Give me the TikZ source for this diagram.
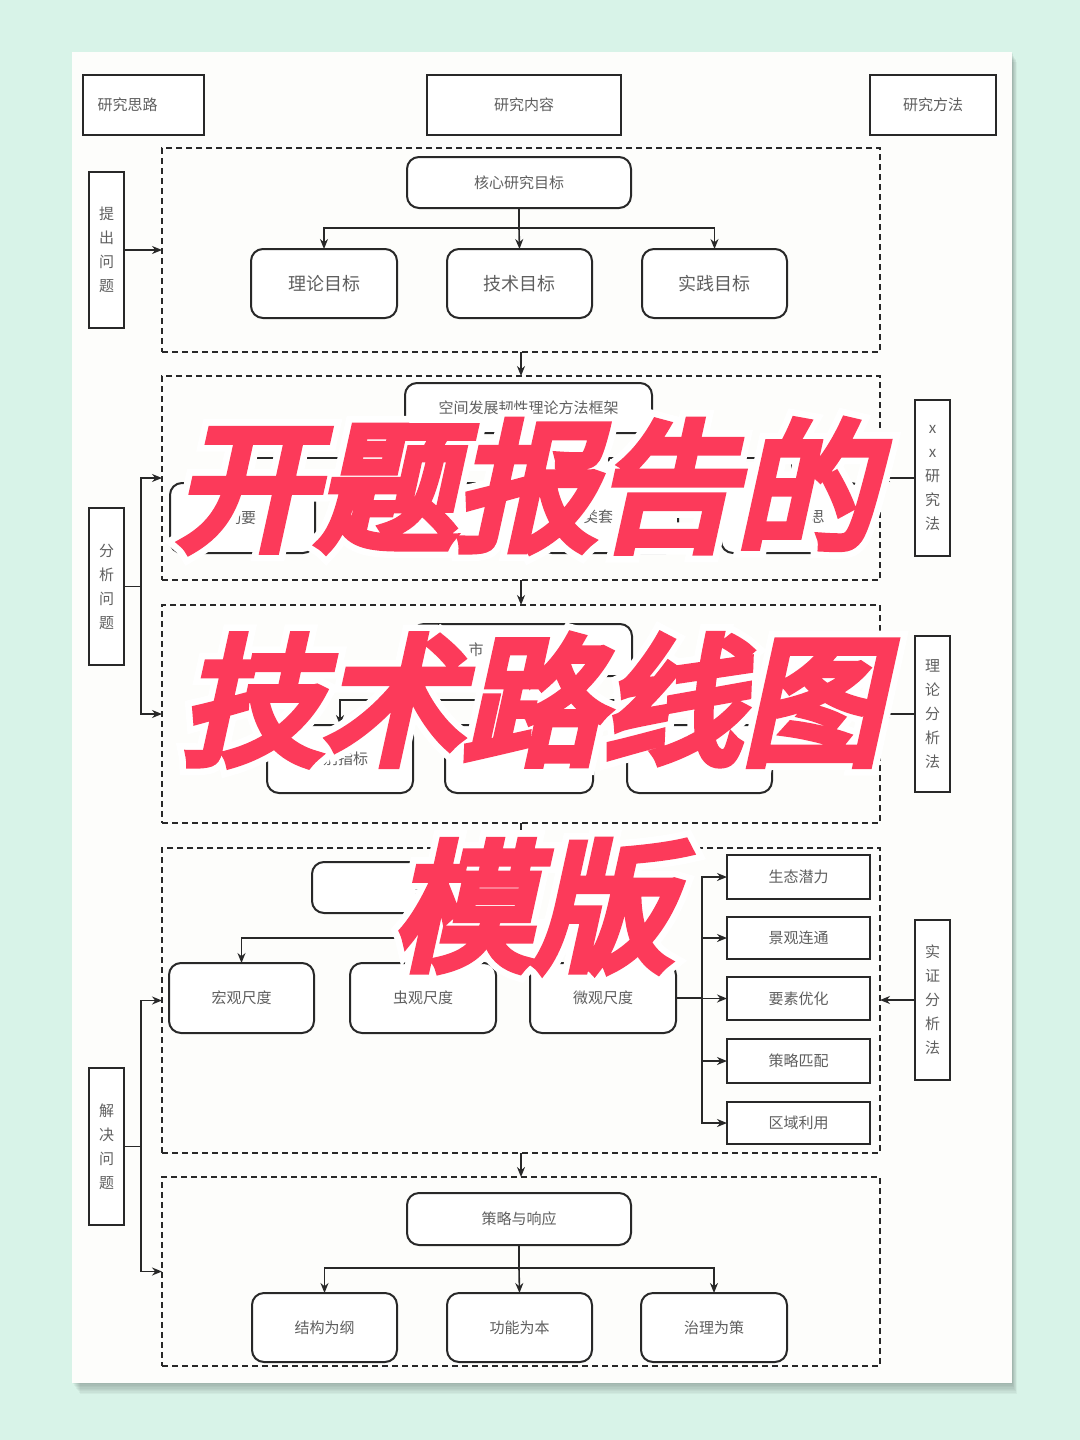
\documentclass[tikz,border=0pt]{standalone}
\usepackage{fontspec}
\setmainfont{Noto Sans CJK SC}
\newfontfamily\bigred[FakeSlant=0.22,FakeBold=6.5]{Noto Sans CJK SC}
\newfontfamily\bigwhite[FakeSlant=0.22,FakeBold=16]{Noto Sans CJK SC}
\usetikzlibrary{arrows.meta}
\definecolor{bg}{RGB}{216,243,232}
\definecolor{paper}{RGB}{253,253,251}
\definecolor{ln}{RGB}{40,40,40}
\definecolor{txt}{RGB}{95,95,95}
\definecolor{hot}{RGB}{252,58,90}
\newcommand\bx[7]{\node[#6, minimum width={(#4-#2)*0.5pt}, minimum height={(#5-#3)*0.5pt}] (#1) at ({(#2+#4)/2},{(#3+#5)/2}) {#7};}
\tikzset{
 every node/.style={inner sep=0pt, outer sep=0pt, text=txt},
 sq/.style={draw=ln, line width=1pt, fill=white, font=\fontsize{7.5}{9}\selectfont},
 vt/.style={sq, align=center, font=\fontsize{7.5}{12}\selectfont},
 rb/.style={draw=ln, line width=1pt, rounded corners=6pt, fill=white, font=\fontsize{9}{11}\selectfont},
 rbs/.style={rb, font=\fontsize{7.5}{9}\selectfont},
 dbox/.style={draw=ln, line width=0.8pt, dash pattern=on 3pt off 2pt},
 frag/.style={font=\fontsize{7.5}{9}\selectfont},
 con/.style={draw=ln, line width=0.8pt},
 arr/.style={con, -{Stealth[length=5pt,width=4pt]}},
 bigw/.style={font=\bigwhite\fontsize{70}{70}\selectfont, text=white},
 bigr/.style={font=\bigred\fontsize{70}{70}\selectfont, text=hot},
}
\begin{document}
\begin{tikzpicture}[x=0.5pt,y=-0.5pt]
\useasboundingbox (0,0) rectangle (1080,1440);
\fill[bg] (0,0) rectangle (1080,1440);
\foreach \s in {1,...,8}{
  \fill[black!70!bg, opacity=0.05] (72+\s,52+\s*1.2) rectangle (1012+\s*0.6,1383+\s*1.4);
}
\fill[paper] (72,52) rectangle (1012,1383);

% header
\bx{h1}{83}{75}{204}{135}{sq}{研究思路\hspace*{16pt}}
\bx{h2}{427}{75}{621}{135}{sq}{研究内容}
\bx{h3}{870}{75}{996}{135}{sq}{研究方法}

% sections
\bx{s1}{162}{148}{880}{352}{dbox}{}
\bx{s2}{162}{376}{880}{580}{dbox}{}
\bx{s3}{162}{605}{880}{823}{dbox}{}
\bx{s4}{162}{848}{880}{1153}{dbox}{}
\bx{s5}{162}{1177}{880}{1366}{dbox}{}
\draw[arr] (s1.south) -- (s2.north);
\draw[arr] (s2.south) -- (s3.north);
\draw[arr] (s3.south) -- (s4.north);
\draw[arr] (s4.south) -- (s5.north);

% left
\bx{q1}{89}{172}{124}{328}{vt}{提\\出\\问\\题}
\bx{q2}{89}{508}{124}{665}{vt}{分\\析\\问\\题}
\bx{q3}{89}{1068}{124}{1225}{vt}{解\\决\\问\\题}
\draw[arr] (q1.east) -- (q1.east -| s1.west);
\draw[con] (q2.east) -- ++(17,0) coordinate (k2);
\draw[arr] (k2) |- (s2.west);
\draw[arr] (k2) |- (s3.west);
\draw[con] (q3.east) -- ++(17,0) coordinate (k3);
\draw[arr] (k3) |- (s4.west);
\draw[arr] (k3) |- (s5.west);

% right
\bx{m1}{915}{400}{950}{556}{vt}{x\\x\\研\\究\\法}
\bx{m2}{915}{636}{950}{792}{vt}{理\\论\\分\\析\\法}
\bx{m3}{915}{920}{950}{1080}{vt}{实\\证\\分\\析\\法}
\draw[arr] (m1.west) -- (m1.west -| s2.east);
\draw[arr] (m2.west) -- (m2.west -| s3.east);
\draw[arr] (m3.west) -- (m3.west -| s4.east);

% section 1
\bx{p0}{407}{157}{631}{208}{rbs}{核心研究目标}
\bx{p1}{251}{249}{397}{318}{rb}{理论目标}
\bx{p2}{447}{249}{592}{318}{rb}{技术目标}
\bx{p3}{642}{249}{787}{318}{rb}{实践目标}
\draw[con] (p0.south) -- ++(0,20) coordinate (j1);
\draw[arr] (j1) -| (p1.north);
\draw[arr] (j1) -- (p2.north);
\draw[arr] (j1) -| (p3.north);

% section 2
\bx{a0}{405}{383}{652}{433}{rbs}{空间发展韧性理论方法框架}
\bx{a1}{170}{483}{315}{553}{rb}{}
\bx{a2}{357}{483}{500}{553}{rb}{}
\bx{a3}{540}{483}{678}{553}{rb}{}
\bx{a4}{721}{483}{863}{553}{rb}{}
\draw[con] (a0.south) -- ++(0,25) coordinate (j2);
\draw[arr] (j2) -| (a1.north);
\draw[arr] (j2) -| (a2.north);
\draw[arr] (j2) -| (a3.north);
\draw[arr] (j2) -| (a4.north);
\node[frag] (fa1) at (241,518) {动要};
\node[frag] (fa2) at (452,518) {令};
\node[frag] (fa3) at (598,517) {类套};
\node[frag] (fa4) at (817,517) {思};

% section 3
\bx{c0}{412}{624}{632}{676}{rbs}{}
\bx{c1}{267}{725}{413}{793}{rb}{}
\bx{c2}{445}{725}{593}{793}{rb}{}
\bx{c3}{627}{725}{772}{793}{rb}{}
\draw[con] (c0.south) -- ++(0,24) coordinate (j3);
\draw[arr] (j3) -| (c1.north);
\draw[arr] (j3) -- (c2.north);
\draw[arr] (j3) -| (c3.north);
\node[frag] (fc0) at (476,650) {市};
\node[frag] (fc1) at (338,759) {识别指标};
\node[frag] (fc3a) at (672,760) {规};
\node[frag] (fc3b) at (726,760) {析};

% section 4
\bx{d0}{312}{862}{532}{913}{rbs}{判}
\bx{e1}{169}{963}{314}{1033}{rbs}{宏观尺度}
\bx{e2}{350}{963}{496}{1033}{rbs}{虫观尺度}
\bx{e3}{530}{963}{676}{1033}{rbs}{微观尺度}
\draw[con] (d0.south) -- ++(0,25) coordinate (j4);
\draw[arr] (j4) -| (e1.north);
\draw[arr] (j4) -| (e2.north);
\draw[arr] (j4) -| (e3.north);
\bx{f1}{727}{855}{870}{899}{sq}{生态潜力}
\bx{f2}{727}{917}{870}{959}{sq}{景观连通}
\bx{f3}{727}{977}{870}{1020}{sq}{要素优化}
\bx{f4}{727}{1039}{870}{1083}{sq}{策略匹配}
\bx{f5}{727}{1102}{870}{1144}{sq}{区域利用}
\draw[con] (e3.east) -- ++(26,0) coordinate (bus);
\draw[arr] (bus) |- (f1.west);
\draw[arr] (bus) |- (f2.west);
\draw[arr] (bus) |- (f3.west);
\draw[arr] (bus) |- (f4.west);
\draw[arr] (bus) |- (f5.west);

% section 5
\bx{g0}{407}{1193}{631}{1245}{rbs}{策略与响应}
\bx{g1}{252}{1293}{397}{1362}{rbs}{结构为纲}
\bx{g2}{447}{1293}{592}{1362}{rbs}{功能为本}
\bx{g3}{641}{1293}{787}{1362}{rbs}{治理为策}
\draw[con] (g0.south) -- ++(0,23) coordinate (j5);
\draw[arr] (j5) -| (g1.north);
\draw[arr] (j5) -- (g2.north);
\draw[arr] (j5) -| (g3.north);

% overlay title
\node[bigw] (w1) at (526,486) {开题报告的};
\node[bigw] (w2) at (532,700) {技术路线图};
\node[bigw] (w3) at (533,906) {模版};
\node[bigr] (r1) at (526,486) {开题报告的};
\node[bigr] (r2) at (532,700) {技术路线图};
\node[bigr] (r3) at (533,906) {模版};
\end{tikzpicture}
\end{document}
